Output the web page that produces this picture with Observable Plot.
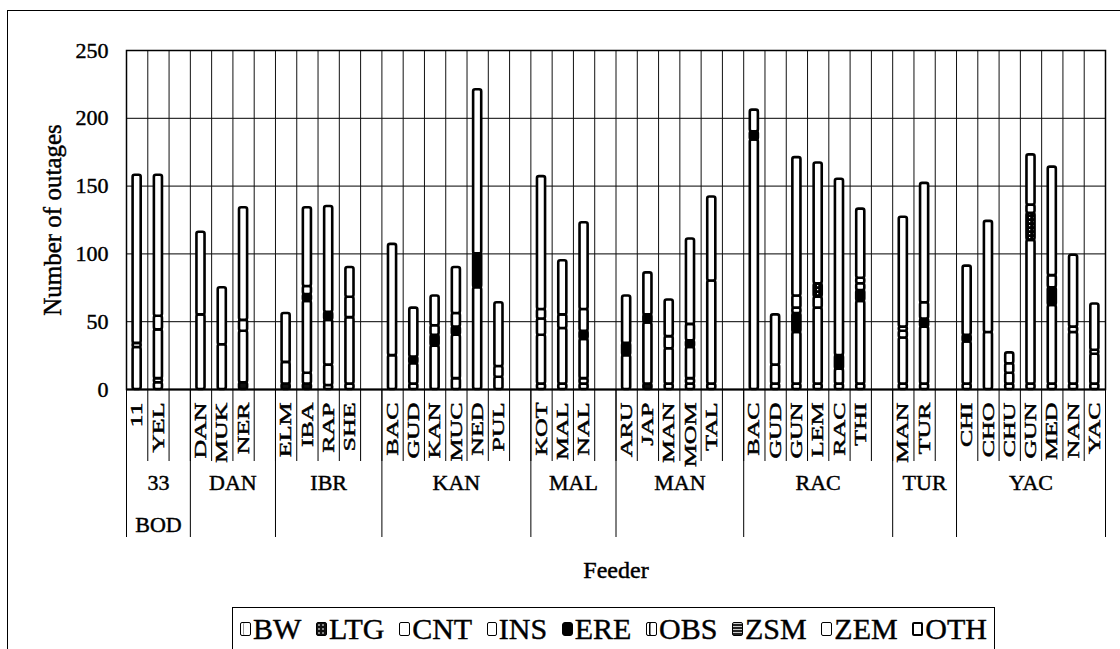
<!DOCTYPE html>
<html><head><meta charset="utf-8">
<script src="https://cdn.jsdelivr.net/npm/d3@7"></script>
<script src="https://cdn.jsdelivr.net/npm/@observablehq/plot@0.6"></script>
<style>
body{margin:0;background:#fff;overflow:hidden}
#wrap{position:relative;width:1120px;height:649px;overflow:hidden;font-family:'Liberation Serif','Times New Roman','DejaVu Serif',serif;color:#000}
#frame{position:absolute;left:7px;top:10px;width:1130px;height:680px;border-left:1.5px solid #000;border-top:1.5px solid #000;pointer-events:none;z-index:2}
#chart{position:relative;z-index:1}
#legend{position:absolute;left:232px;top:607px;width:763px;height:44px;border:1.5px solid #000;box-sizing:border-box;display:flex;justify-content:space-between;align-items:center;padding:0 7px;font-size:30px;line-height:1;z-index:3;background:#fff;font-family:'Liberation Serif','Times New Roman','DejaVu Serif',serif;-webkit-text-stroke:0.4px #000}
.item{display:flex;align-items:center;white-space:nowrap}
.sw{width:11px;height:14px;border:1.5px solid #000;margin-right:2px;box-sizing:border-box;border-radius:2px;background:#fff}
</style></head><body>
<div id="wrap"><div id="frame"></div><div id="chart"></div><div id="legend"></div></div>
<script>
// ---- data ----
const groups = ["33\nBOD", "DAN", "IBR", "KAN", "MAL", "MAN", "RAC", "TUR", "YAC"];
const feeders = [
  ["11", "YEL"],
  ["DAN", "MUK", "NER"],
  ["ELM", "IBA", "RAP", "SHE"],
  ["BAC", "GUD", "KAN", "MUC", "NED", "PUL"],
  ["KOT", "MAL", "NAL"],
  ["ARU", "JAP", "MAN", "MOM", "TAL"],
  ["BAC", "GUD", "GUN", "LEM", "RAC", "THI"],
  ["MAN", "TUR"],
  ["CHI", "CHO", "CHU", "GUN", "MED", "NAN", "YAC"]
];
const seriesNames = ["BW", "LTG", "CNT", "INS", "ERE", "OBS", "ZSM", "ZEM", "OTH"];
// values in feeder order (38 bars)
const BW  = [0,5,0,0,0,0,0,3,4,0,4,0,8,0,9,4,4,4,0,0,4,4,4,0,4,4,4,4,4,4,4,4,0,4,4,4,4,4];
const LTG = [0,0,0,0,5,4,4,0,0,0,0,0,0,0,0,0,0,0,0,4,0,0,0,0,0,0,0,0,0,0,0,0,0,0,0,0,0,0];
const CNT = [31,3,55,33,38,16,8,15,49,25,15,32,32,75,8,36,41,4,25,45,26,4,76,184,14,38,56,11,61,34,42,31,42,8,106,58,38,22];
const INS = [3,36,0,0,8,0,53,33,0,0,0,0,0,0,0,0,0,29,0,0,0,23,0,0,0,0,0,0,0,5,0,0,0,0,0,0,4,3];
const ERE = [0,0,0,0,0,0,5,6,0,0,5,8,6,25,0,0,0,6,9,6,0,5,0,6,0,14,0,10,8,0,6,5,0,0,0,13,0,0];
const OBS = [0,10,0,0,0,0,6,0,15,0,0,7,10,0,0,12,10,16,0,0,9,12,0,0,0,4,8,0,5,3,12,0,0,7,0,9,0,0];
const ZSM = [0,0,0,0,0,0,0,0,0,0,0,0,0,0,0,0,0,0,0,0,0,0,0,0,0,0,10,0,0,0,0,0,0,0,20,0,0,0];
const ZEM = [0,0,0,0,0,0,0,0,0,0,0,0,0,0,0,7,0,0,0,0,0,0,0,0,0,9,0,0,4,0,0,0,0,0,6,0,0,0];
const OTH = [124,104,61,42,83,36,58,78,22,82,36,22,34,121,47,98,40,64,35,31,27,63,62,16,37,102,89,130,51,81,88,51,82,8,37,80,53,34];
const yTicks = [0, 50, 100, 150, 200, 250];

// ---- styles ----
const FONT = "'Liberation Serif','Times New Roman','DejaVu Serif',serif";
const seriesValues = [BW, LTG, CNT, INS, ERE, OBS, ZSM, ZEM, OTH];
const seriesFill = {BW:"#fff", LTG:"#111", CNT:"#fff", INS:"#fff", ERE:"#000", OBS:"#fff", ZSM:"url(#zsm)", ZEM:"#fff", OTH:"#fff"};

// ---- build tables ----
const rows = [], centers = [], names = new Map(), groupBounds = [], groupRows = [];
let slot = 0, k = 0;
groups.forEach((g, gi) => {
  const start = slot;
  groupBounds.push(start);
  feeders[gi].forEach(f => {
    const c = slot + 0.5;
    centers.push(c); names.set(c, f);
    let acc = 0;
    seriesNames.forEach((s, si) => {
      const v = seriesValues[si][k];
      if (v > 0) {
        rows.push({x1: slot + 0.31, x2: slot + 0.69, y1: acc, y2: acc + v, fill: seriesFill[s]});
        acc += v;
      }
    });
    slot++; k++;
  });
  if (gi < groups.length - 1) slot++; // blank slot after each group
  groupRows.push({cx: (start + slot) / 2, label: g});
});
const nSlots = slot;
groupBounds.push(nSlots);

const plot = Plot.plot({
  width: 1120, height: 600,
  marginLeft: 126, marginRight: 15, marginTop: 50, marginBottom: 211,
  x: {domain: [0, nSlots]},
  y: {domain: [0, 250]},
  color: {type: "identity"},
  style: {fontFamily: FONT, background: "transparent", color: "#000"},
  marks: [
    Plot.ruleY(yTicks.filter(t => t > 0), {stroke: "#000", strokeWidth: 1}),
    Plot.ruleX(d3.range(0, nSlots + 1), {y1: 0, y2: 250, stroke: "#111", strokeWidth: 1}),
    Plot.rect(rows, {x1: "x1", x2: "x2", y1: "y1", y2: "y2", fill: "fill", stroke: "#000", strokeWidth: 2.6, rx: 2}),
    Plot.frame({stroke: "#000", strokeWidth: 1.5}),
    Plot.ruleY([0], {stroke: "#000", strokeWidth: 2}),
    Plot.axisY(yTicks, {tickSize: 0, tickPadding: 18, fontSize: 22, fontFamily: FONT, label: null}),
    Plot.axisX(d3.range(0, nSlots + 1), {tickSize: 72, tickFormat: () => "", label: null}),
    Plot.axisX(groupBounds, {tickSize: 148, tickFormat: () => "", label: null}),
    Plot.axisX(centers, {tickSize: 0, tickPadding: 13, tickRotate: -90, tickFormat: d => names.get(d), fontSize: 16, fontFamily: FONT, label: null}),
    Plot.text(groupRows, {x: "cx", text: "label", frameAnchor: "bottom", dy: 71, lineAnchor: "top", textAnchor: "middle", lineHeight: 1.9, fontSize: 22, fontFamily: FONT}),
    Plot.text(["Number of outages"], {text: d => d, frameAnchor: "left", dx: -74, rotate: -90, textAnchor: "middle", lineAnchor: "middle", fontSize: 25, fontFamily: FONT}),
    Plot.text(["Feeder"], {text: d => d, frameAnchor: "bottom", dy: 181, textAnchor: "middle", lineAnchor: "middle", fontSize: 24, fontFamily: FONT})
  ]
});
document.getElementById("chart").appendChild(plot);

// pattern for ZSM
d3.select(plot).insert("defs", ":first-child").html(
  '<pattern id="zsm" width="4" height="4" patternUnits="userSpaceOnUse"><rect width="4" height="4" fill="#000"/><rect x="1" y="1" width="1.2" height="1.2" fill="#fff"/></pattern>'
);
// stretch rotated feeder labels along their reading direction, like the scanned original
d3.select(plot).selectAll('g[aria-label="x-axis tick label"] text').each(function () {
  const t = this.getAttribute("transform");
  if (t && t.includes("rotate")) this.setAttribute("transform", t + " scale(1.62,1)");
});
// heavier, scanned-looking glyphs
d3.select(plot).selectAll("text").attr("font-family", FONT).attr("stroke", "#000").attr("stroke-width", 0.45).attr("paint-order", "normal");

// ---- legend ----
const swatchStyle = {
  BW: "background:#fff;box-shadow:inset 2px 0 0 #fff, inset 3px 0 0 #999",
  LTG: "background:radial-gradient(#888 30%, #111 32%);background-size:4px 4px",
  CNT: "background:#fff",
  INS: "background:#fff;width:10px",
  ERE: "background:#000;border-radius:3px",
  OBS: "background:#fff;box-shadow:inset 2px 0 0 #fff, inset 3.5px 0 0 #000",
  ZSM: "background:repeating-linear-gradient(0deg,#222 0 2px,#ccc 2px 3px)",
  ZEM: "background:#fff",
  OTH: "background:#fff;border-width:2px"
};
const lg = document.getElementById("legend");
seriesNames.forEach(s => {
  const it = document.createElement("div");
  it.className = "item";
  it.innerHTML = `<span class="sw" style="${swatchStyle[s]}"></span><span>${s}</span>`;
  lg.appendChild(it);
});
</script>
</body></html>
